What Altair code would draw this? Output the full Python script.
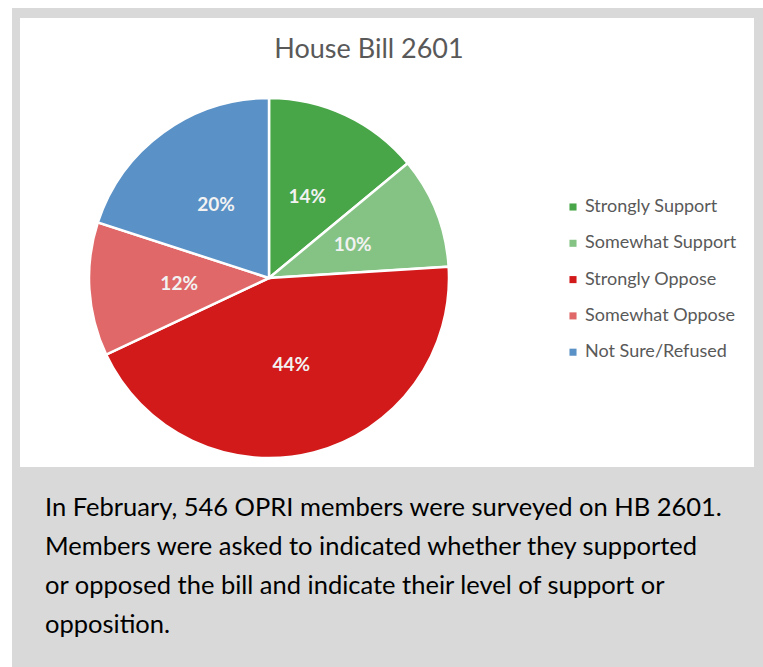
import altair as alt
import pandas as pd

categories = ["Strongly Support", "Somewhat Support", "Strongly Oppose", "Somewhat Oppose", "Not Sure/Refused"]
values = [14, 10, 44, 12, 20]
colors = ["#48A548", "#85C385", "#D21A1A", "#E06868", "#5A91C6"]
title_text = "House Bill 2601"
note_lines = [
    "In February, 546 OPRI members were surveyed on HB 2601.",
    "Members were asked to indicated whether they supported",
    "or opposed the bill and indicate their level of support or",
    "opposition.",
]

FONT = "Lato"

df = pd.DataFrame({
    "category": categories,
    "value": values,
    "order": list(range(len(categories))),
    "label": [f"{v}%" for v in values],
})

base = alt.Chart(df)

grey_bg = base.mark_rect(color="#D9D9D9").encode(
    x=alt.value(12), x2=alt.value(763), y=alt.value(8), y2=alt.value(667)
).transform_filter("datum.order == 0")

white_bg = base.mark_rect(color="#FFFFFF").encode(
    x=alt.value(20), x2=alt.value(754), y=alt.value(18), y2=alt.value(467)
).transform_filter("datum.order == 0")

theta = alt.Theta("value:Q", stack=True)
order = alt.Order("order:Q", sort="ascending")

arcs = base.mark_arc(outerRadius=180, stroke="white", strokeWidth=2.5).encode(
    theta=theta,
    order=order,
    x=alt.value(269),
    y=alt.value(278),
    color=alt.Color(
        "category:N",
        scale=alt.Scale(domain=categories, range=colors),
        sort=categories,
        legend=alt.Legend(
            title=None,
            orient="none",
            legendX=564,
            legendY=198,
            symbolType="square",
            symbolSize=50,
            symbolStrokeWidth=0,
            labelFont=FONT,
            labelFontSize=18,
            labelColor="#595959",
            labelOffset=3,
            rowPadding=18.3,
            padding=0,
        ),
    ),
)

labels = base.mark_text(
    radius=90, font=FONT, fontSize=19, fontWeight="bold", color="#F2F2F2"
).encode(
    theta=theta,
    order=order,
    x=alt.value(269),
    y=alt.value(278),
    text="label:N",
)

title = base.mark_text(
    font=FONT, fontSize=27, color="#595959", align="center", baseline="middle"
).encode(
    x=alt.value(369), y=alt.value(50), text=alt.value(title_text)
).transform_filter("datum.order == 0")

note = base.mark_text(
    font=FONT, fontSize=25.5, color="#000000", align="left", baseline="middle",
    lineHeight=39,
).encode(
    x=alt.value(45), y=alt.value(508), text=alt.value(note_lines)
).transform_filter("datum.order == 0")

chart = alt.layer(grey_bg, white_bg, arcs, labels, title, note).properties(
    width=763,
    height=667,
    padding=0,
    autosize=alt.AutoSizeParams(type="none"),
    background="white",
).configure_view(stroke=None)

chart.save("out.html", embed_options={"renderer": "svg", "actions": False})
